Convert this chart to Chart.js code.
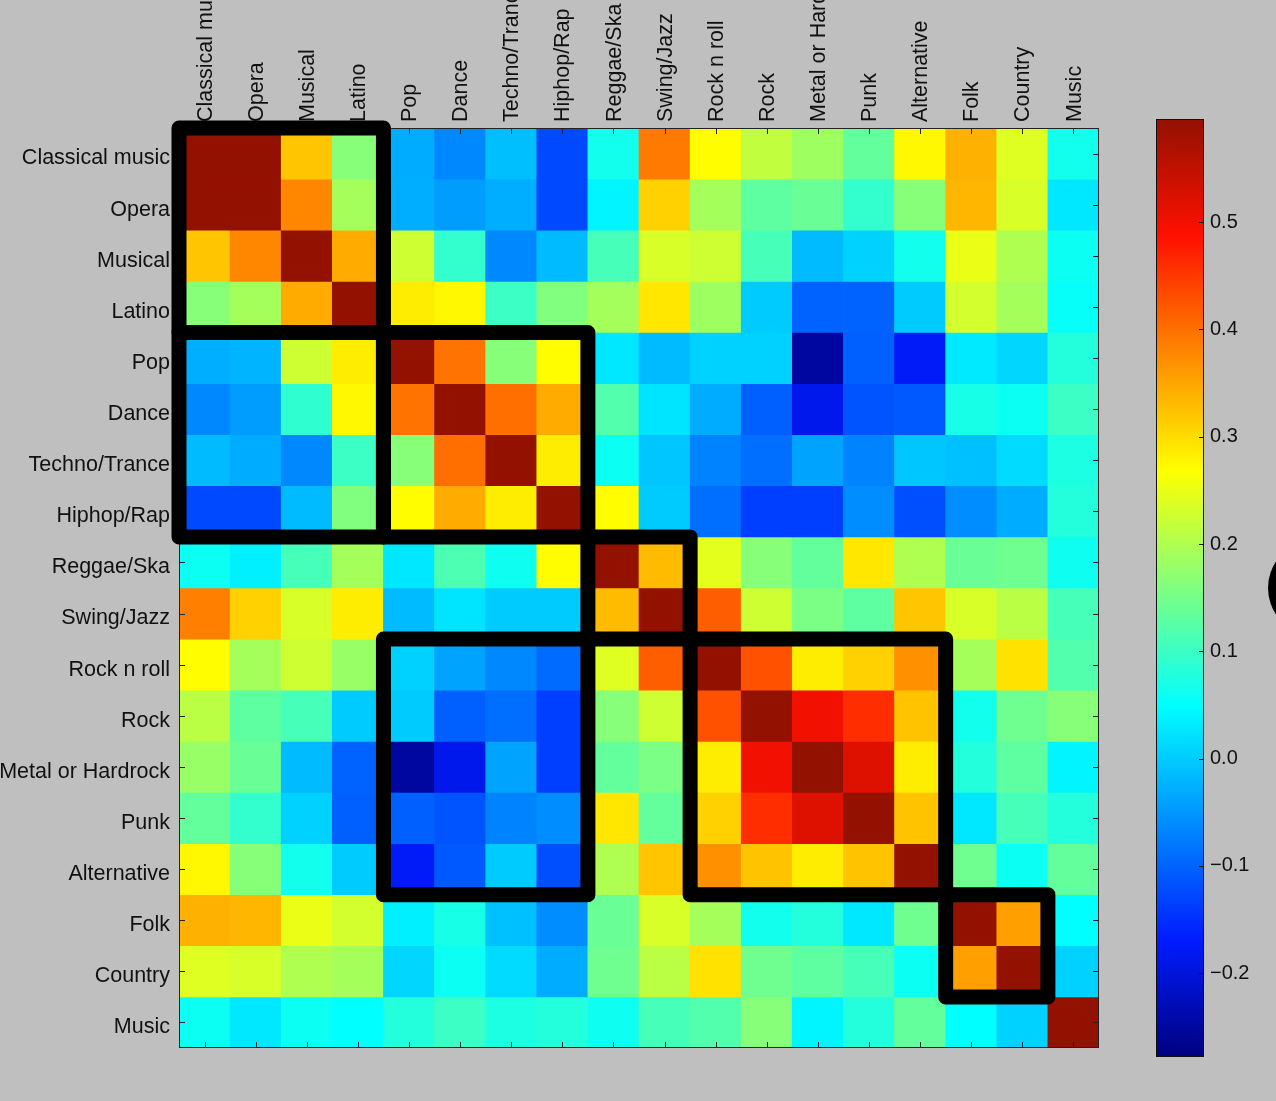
<!DOCTYPE html>
<html>
<head>
<meta charset="utf-8">
<script src="https://cdn.jsdelivr.net/npm/chart.js@4"></script>
<style>
  body { margin: 0; background: #bfbfbf; overflow: hidden; }
  #heat { position: absolute; left: 0; top: 0; }
  #bar { position: absolute; left: 1140px; top: 0; }
</style>
</head>
<body>
<canvas id="heat" width="1276" height="1101"></canvas>
<canvas id="bar" width="136" height="1101"></canvas>
<script>
// generos (filas y columnas)
const genres = ['Classical music', 'Opera', 'Musical', 'Latino', 'Pop', 'Dance', 'Techno/Trance', 'Hiphop/Rap',
  'Reggae/Ska', 'Swing/Jazz', 'Rock n roll', 'Rock', 'Metal or Hardrock', 'Punk', 'Alternative', 'Folk', 'Country', 'Music'];

// correlaciones, una fila por genero
const rowClassical = [1, 0.7, 0.32, 0.165, -0.03, -0.065, -0.012, -0.125, 0.065, 0.39, 0.27, 0.215, 0.185, 0.135, 0.275, 0.34, 0.24, 0.065];
const rowOpera     = [0.7, 1, 0.378, 0.19, -0.028, -0.045, -0.028, -0.125, 0.04, 0.31, 0.19, 0.13, 0.14, 0.093, 0.165, 0.335, 0.235, 0.028];
const rowMusical   = [0.32, 0.378, 1, 0.345, 0.225, 0.093, -0.065, -0.016, 0.11, 0.235, 0.225, 0.11, -0.016, 0.006, 0.065, 0.25, 0.2, 0.06];
const rowLatino    = [0.165, 0.19, 0.345, 1, 0.285, 0.275, 0.1, 0.16, 0.19, 0.29, 0.185, 0.0, -0.1, -0.1, 0.0, 0.23, 0.19, 0.055];
const rowPop       = [-0.028, -0.022, 0.225, 0.285, 1, 0.395, 0.165, 0.27, 0.028, -0.016, 0.006, 0.006, -0.25, -0.103, -0.175, 0.03, 0.01, 0.08];
const rowDance     = [-0.065, -0.045, 0.09, 0.275, 0.395, 1, 0.4, 0.345, 0.12, 0.025, -0.03, -0.103, -0.185, -0.115, -0.11, 0.07, 0.06, 0.1];
const rowTechno    = [-0.016, -0.03, -0.065, 0.1, 0.165, 0.4, 1, 0.285, 0.06, -0.005, -0.07, -0.09, -0.038, -0.07, -0.005, -0.01, 0.015, 0.075];
const rowHiphop    = [-0.125, -0.125, -0.016, 0.16, 0.27, 0.345, 0.285, 1, 0.27, 0.0, -0.09, -0.135, -0.135, -0.06, -0.12, -0.06, -0.03, 0.08];
const rowReggae    = [0.06, 0.035, 0.11, 0.19, 0.028, 0.115, 0.062, 0.27, 1, 0.33, 0.245, 0.165, 0.135, 0.29, 0.2, 0.14, 0.145, 0.062];
const rowSwing     = [0.385, 0.31, 0.235, 0.285, -0.016, 0.025, 0.0, 0.0, 0.33, 1, 0.415, 0.225, 0.155, 0.13, 0.32, 0.235, 0.21, 0.11];
const rowRocknroll = [0.27, 0.19, 0.225, 0.18, 0.006, -0.038, -0.065, -0.093, 0.24, 0.415, 1, 0.427, 0.285, 0.31, 0.37, 0.19, 0.295, 0.12];
const rowRock      = [0.21, 0.13, 0.11, 0.0, 0.0, -0.103, -0.09, -0.135, 0.165, 0.225, 0.427, 1, 0.5, 0.46, 0.323, 0.065, 0.145, 0.165];
const rowMetal     = [0.18, 0.14, -0.016, -0.1, -0.25, -0.185, -0.038, -0.135, 0.135, 0.155, 0.285, 0.5, 1, 0.52, 0.285, 0.08, 0.13, 0.04];
const rowPunk      = [0.135, 0.093, 0.006, -0.103, -0.103, -0.115, -0.07, -0.06, 0.29, 0.135, 0.31, 0.46, 0.52, 1, 0.323, 0.028, 0.11, 0.08];
const rowAlt       = [0.275, 0.165, 0.065, 0.0, -0.175, -0.11, 0.0, -0.12, 0.2, 0.32, 0.37, 0.323, 0.285, 0.323, 1, 0.145, 0.06, 0.135];
const rowFolk      = [0.34, 0.335, 0.25, 0.23, 0.035, 0.07, -0.01, -0.06, 0.14, 0.235, 0.19, 0.065, 0.08, 0.028, 0.145, 1, 0.355, 0.05];
const rowCountry   = [0.24, 0.235, 0.2, 0.19, 0.01, 0.06, 0.015, -0.03, 0.145, 0.21, 0.295, 0.145, 0.13, 0.11, 0.06, 0.355, 1, 0.006];
const rowMusic     = [0.06, 0.028, 0.06, 0.05, 0.08, 0.1, 0.075, 0.08, 0.062, 0.11, 0.12, 0.165, 0.04, 0.08, 0.135, 0.05, 0.006, 1];

const corr = [rowClassical, rowOpera, rowMusical, rowLatino, rowPop, rowDance, rowTechno, rowHiphop, rowReggae,
  rowSwing, rowRocknroll, rowRock, rowMetal, rowPunk, rowAlt, rowFolk, rowCountry, rowMusic];

// grupos marcados con recuadro: [fila ini, fila fin, col ini, col fin]
const groups = [[0, 3, 0, 3], [4, 7, 0, 3], [4, 7, 4, 7], [8, 9, 8, 9], [10, 14, 4, 7], [10, 14, 10, 14], [15, 16, 15, 16]];

// escala de color
const vmin = -0.278;
const vmax = 0.596;
const cbTicks = [-0.2, -0.1, 0.0, 0.1, 0.2, 0.3, 0.4, 0.5];

const fuente = { family: '"Liberation Sans", Arial, sans-serif', size: 21.5 };
const colorTexto = '#111';

// paleta tipo jet
const jetStops = [
  [0, [0, 0, 128]],
  [0.125, [0, 28, 255]],
  [0.375, [0, 255, 255]],
  [0.625, [255, 255, 0]],
  [0.875, [255, 16, 0]],
  [1, [147, 17, 0]]
];

function jetT(t) {
  t = Math.max(0, Math.min(1, t));
  for (let k = 1; k < jetStops.length; k++) {
    if (t <= jetStops[k][0]) {
      const a = jetStops[k - 1], b = jetStops[k];
      const f = (t - a[0]) / (b[0] - a[0]);
      const c = a[1].map((v, i) => Math.round(v + (b[1][i] - v) * f));
      return 'rgb(' + c.join(',') + ')';
    }
  }
  return 'rgb(147,17,0)';
}

function jet(v) {
  return jetT((v - vmin) / (vmax - vmin));
}

// marcas, borde y recuadros del mapa
const decoracion = {
  id: 'decoracion',
  afterDatasetsDraw(chart) {
    const ctx = chart.ctx;
    const a = chart.chartArea;
    const sx = chart.scales.x;
    const sy = chart.scales.yl;
    const w = sx.getPixelForValue(1) - sx.getPixelForValue(0);
    const h = sy.getPixelForValue(1) - sy.getPixelForValue(0);
    ctx.save();
    ctx.strokeStyle = '#222';
    ctx.lineWidth = 1;
    for (let i = 0; i < genres.length; i++) {
      const px = Math.round(sx.getPixelForValue(i)) + 0.5;
      const py = Math.round(sy.getPixelForValue(i)) + 0.5;
      ctx.beginPath();
      ctx.moveTo(px, a.top); ctx.lineTo(px, a.top + 6);
      ctx.moveTo(px, a.bottom); ctx.lineTo(px, a.bottom - 6);
      ctx.moveTo(a.left, py); ctx.lineTo(a.left + 6, py);
      ctx.moveTo(a.right, py); ctx.lineTo(a.right - 6, py);
      ctx.stroke();
    }
    ctx.strokeRect(a.left + 0.5, a.top + 0.5, a.right - a.left - 1, a.bottom - a.top - 1);

    ctx.strokeStyle = '#000';
    ctx.lineWidth = 15;
    ctx.lineJoin = 'round';
    groups.forEach(function (g) {
      const x0 = sx.getPixelForValue(g[2]) - w / 2;
      const x1 = sx.getPixelForValue(g[3]) + w / 2;
      const y0 = sy.getPixelForValue(g[0]) - h / 2;
      const y1 = sy.getPixelForValue(g[1]) + h / 2;
      ctx.strokeRect(x0, y0, x1 - x0, y1 - y0);
    });
    ctx.restore();
  }
};

new Chart(document.getElementById('heat'), {
  type: 'bar',
  data: {
    labels: genres,
    datasets: corr.map(function (fila, i) {
      return {
        label: genres[i],
        data: fila.map(() => 1),
        backgroundColor: fila.map(v => jet(v)),
        borderWidth: 0,
        barPercentage: 1,
        categoryPercentage: 1,
        stack: 'm',
        yAxisID: 'y'
      };
    })
  },
  options: {
    responsive: false,
    animation: false,
    layout: { padding: { top: 0, right: 177, bottom: 53, left: 0 } },
    plugins: { legend: { display: false }, tooltip: { enabled: false } },
    scales: {
      x: {
        position: 'top',
        stacked: true,
        grid: { display: false, drawTicks: false },
        border: { display: false },
        ticks: { minRotation: 90, maxRotation: 90, autoSkip: false, padding: 6, labelOffset: 27, font: fuente, color: colorTexto },
        afterFit(s) { s.height = 128; }
      },
      y: { display: false, stacked: true, min: 0, max: genres.length, reverse: true },
      yl: {
        type: 'category',
        labels: genres,
        offset: true,
        position: 'left',
        grid: { display: false, drawTicks: false },
        border: { display: false },
        ticks: { autoSkip: false, padding: 9, labelOffset: 5, font: fuente, color: colorTexto },
        afterFit(s) { s.width = 179; }
      }
    }
  },
  plugins: [decoracion]
});

// barra de color
function degradado(chart) {
  const s = chart.scales.y;
  if (!chart.chartArea || !s) return 'rgba(0,0,0,0)';
  const g = chart.ctx.createLinearGradient(0, s.getPixelForValue(vmin), 0, s.getPixelForValue(vmax));
  jetStops.forEach(function (st) {
    g.addColorStop(st[0], 'rgb(' + st[1].join(',') + ')');
  });
  return g;
}

const marcoBarra = {
  id: 'marcoBarra',
  afterDatasetsDraw(chart) {
    const ctx = chart.ctx;
    const a = chart.chartArea;
    const s = chart.scales.y;
    ctx.save();
    ctx.strokeStyle = '#111';
    ctx.lineWidth = 1;
    ctx.strokeRect(a.left + 0.5, a.top + 0.5, a.right - a.left - 1, a.bottom - a.top - 1);
    cbTicks.forEach(function (v) {
      const py = Math.round(s.getPixelForValue(v)) + 0.5;
      ctx.beginPath();
      ctx.moveTo(a.right, py); ctx.lineTo(a.right - 5, py);
      ctx.stroke();
    });
    // mancha negra cortada en el borde derecho
    ctx.fillStyle = '#000';
    ctx.beginPath();
    ctx.ellipse(164, 588, 36, 42, 0, 0, Math.PI * 2);
    ctx.fill();
    ctx.restore();
  }
};

new Chart(document.getElementById('bar'), {
  type: 'bar',
  data: {
    labels: [''],
    datasets: [{
      data: [[vmin, vmax]],
      backgroundColor: ctx => degradado(ctx.chart),
      borderWidth: 0,
      barPercentage: 1,
      categoryPercentage: 1
    }]
  },
  options: {
    responsive: false,
    animation: false,
    layout: { padding: { top: 119, right: 0, bottom: 44, left: 16 } },
    plugins: { legend: { display: false }, tooltip: { enabled: false } },
    scales: {
      x: { display: false },
      y: {
        position: 'right',
        min: vmin,
        max: vmax,
        grid: { display: false, drawTicks: false },
        border: { display: false },
        afterBuildTicks(s) { s.ticks = cbTicks.map(v => ({ value: v })); },
        ticks: {
          padding: 6,
          font: { family: fuente.family, size: 20 },
          color: colorTexto,
          callback: v => (v < 0 ? '\u2212' : '') + Math.abs(v).toFixed(1)
        },
        afterFit(s) { s.width = 72; }
      }
    }
  },
  plugins: [marcoBarra]
});
</script>
</body>
</html>
